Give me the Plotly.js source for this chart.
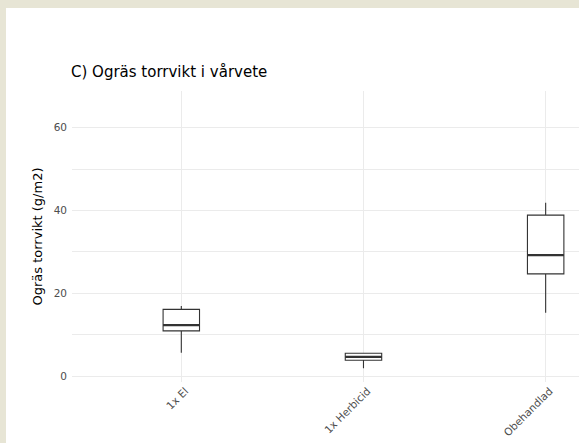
<!DOCTYPE html>
<html>
<head>
<meta charset="utf-8">
<script src="https://cdn.plot.ly/plotly-3.0.1.min.js"></script>
<style>
html,body{margin:0;padding:0;background:#e7e5d5;width:579px;height:443px;overflow:hidden;}
#chart{position:absolute;left:6px;top:8px;width:573px;height:435px;}
</style>
</head>
<body>
<div id="chart"></div>
<script>
const categories = ['1x El', '1x Herbicid', 'Obehandlad'];
const lowerWhisker = [5.6, 1.9, 15.3];
const q1Values = [10.9, 3.8, 24.7];
const medianValues = [12.3, 4.6, 29.2];
const q3Values = [16.1, 5.5, 38.9];
const upperWhisker = [16.9, 5.6, 41.9];
const yTicks = [0, 20, 40, 60];

const boxTrace = {
  type: 'box',
  x: categories,
  q1: q1Values,
  median: medianValues,
  q3: q3Values,
  lowerfence: lowerWhisker,
  upperfence: upperWhisker,
  width: 0.2,
  whiskerwidth: 0,
  fillcolor: '#ffffff',
  line: {color: '#333333', width: 1.1},
  hoverinfo: 'skip',
  showlegend: false
};
const medianTrace = {
  type: 'box',
  x: categories,
  q1: medianValues,
  median: medianValues,
  q3: medianValues,
  lowerfence: medianValues,
  upperfence: medianValues,
  width: 0.2,
  whiskerwidth: 0,
  fillcolor: 'rgba(0,0,0,0)',
  line: {color: '#333333', width: 2.2},
  hoverinfo: 'skip',
  showlegend: false
};

const layout = {
  width: 573,
  height: 435,
  paper_bgcolor: '#ffffff',
  plot_bgcolor: '#ffffff',
  margin: {l: 66, r: 0, t: 83, b: 61},
  font: {family: 'DejaVu Sans, Verdana, sans-serif', color: '#000000'},
  boxmode: 'overlay',
  title: {
    text: 'C) Ogräs torrvikt i vårvete',
    font: {size: 15, color: '#000000'},
    xref: 'container', x: 65 / 573, xanchor: 'left',
    yref: 'container', y: 1 - 64 / 435, yanchor: 'middle'
  },
  xaxis: {
    type: 'category',
    range: [-0.6, 2.183],
    showgrid: true,
    gridcolor: '#ebebeb',
    gridwidth: 1,
    zeroline: false,
    showline: false,
    ticks: '',
    tickangle: -45,
    ticklabelshift: 4,
    tickfont: {size: 10.5, color: '#4d4d4d'},
    automargin: false
  },
  yaxis: {
    range: [-1.45, 68.9],
    tickvals: yTicks,
    ticktext: yTicks.map(String),
    showgrid: true,
    gridcolor: '#ebebeb',
    gridwidth: 1,
    minor: {dtick: 10, tick0: 0, showgrid: true, gridcolor: '#ebebeb', gridwidth: 1, ticks: ''},
    zeroline: false,
    showline: false,
    ticks: '',
    ticklabelstandoff: 4,
    tickfont: {size: 10.5, color: '#4d4d4d'},
    title: {text: 'Ogräs torrvikt (g/m2)', font: {size: 13, color: '#000000'}, standoff: 8},
    automargin: false
  }
};

Plotly.newPlot('chart', [boxTrace, medianTrace], layout, {displayModeBar: false, staticPlot: true});
</script>
</body>
</html>
